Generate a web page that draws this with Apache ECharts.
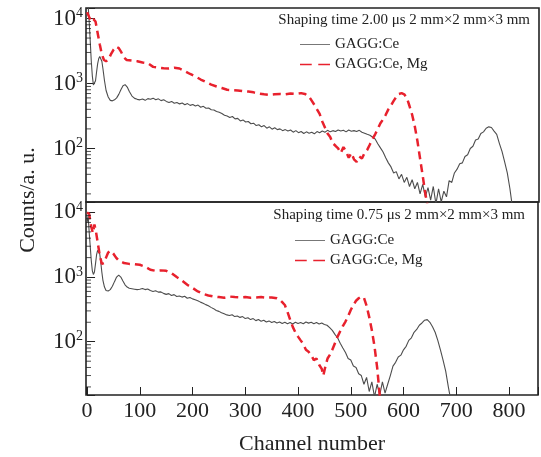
<!DOCTYPE html>
<html>
<head>
<meta charset="utf-8">
<script src="https://cdn.jsdelivr.net/npm/echarts@6/dist/echarts.min.js"></script>
<style>
html, body { margin: 0; padding: 0; background: #fff; }
#chart { width: 541px; height: 457px; }
</style>
</head>
<body>
<div id="chart"></div>
<script>
// channel numbers and counts
var headCh = [0,2,4,6,8,10,12,14,16,18,20,22,24,26,28,30,33,36,40,44,48,52,56,60,64,68,72,76,80,85,90,95];
var tailStart = 100, tailStep = 5;

// 2.00 us, GAGG:Ce
var topGrayHead = [20000,16000,9000,4500,2200,1300,950,920,1100,1500,2000,2400,2600,2550,2200,1700,1100,780,620,550,540,560,600,680,800,920,960,880,750,640,590,570];
var topGrayTail = [560,575,550,585,570,595,560,580,545,560,
  530,510,530,495,510,485,500,470,490,460,
  475,450,465,430,445,415,420,395,390,370,
  360,345,325,315,300,310,285,290,265,275,
  255,260,240,245,225,232,215,225,205,215,
  198,208,195,200,188,195,185,192,178,188,
  175,182,170,180,172,178,168,182,175,185,
  178,190,180,188,182,192,185,190,180,192,
  184,188,182,190,178,172,165,160,150,140,
  118,102,88,72,60,52,42,44,34,40,
  30,36,26,33,24,30,20,28,18,25,
  16,26,14,24,15,22,18,32,30,42,
  48,58,60,75,80,100,108,135,140,170,
  180,205,215,210,185,165,120,90,62,42,
  24,12];

// 2.00 us, GAGG:Ce,Mg
var topRedCh = [0,4,8,12,16,20,24,28,32,36,40,45,50,55,60,65,70,75,85,95,105,115,125,135,145,155,165,175,185,195,205,215,225,235,245,255,265,275,285,295,305,315,325,335,345,355,365,375,385,395,405,412,418,424,430,435,440,445,450,455,460,465,470,475,480,485,490,495,500,505,510,515,520,525,530,535,540,545,550,555,560,565,570,575,580,585,590,595,600,605,610,615,620,625,630,635,640,645];
var topRed = [12500,10500,9000,9800,9000,6000,4000,2800,2300,2200,2300,2800,3300,3700,3500,3000,2500,2300,2250,2200,2100,2050,1800,1750,1720,1700,1750,1700,1550,1400,1280,1150,1050,960,900,850,800,790,780,760,750,730,700,680,665,680,690,680,700,690,710,690,650,560,470,400,340,260,210,170,150,120,110,100,85,105,90,72,85,68,62,75,70,85,95,115,140,165,200,245,280,330,400,460,540,620,690,710,680,600,450,330,220,130,70,38,20,12];

// 0.75 us, GAGG:Ce
var bottomGrayHead = [7000,9000,5000,3000,1800,1250,1100,1200,1600,2200,2600,2700,2300,1700,1200,900,700,620,610,640,720,850,1000,1070,1000,870,760,700,670,660,650,640];
var bottomGrayTail = [650,665,640,655,620,600,615,585,590,560,
  540,555,520,535,500,510,490,505,470,485,
  460,445,430,410,395,375,360,340,325,305,
  295,280,270,260,255,262,245,250,238,245,
  228,235,220,228,212,220,208,215,202,210,
  198,206,195,202,192,200,190,198,188,200,
  192,198,190,202,194,200,190,198,188,195,
  185,180,165,150,130,115,95,80,68,55,
  52,42,40,32,30,22,28,17,24,14,
  22,15,24,16,22,30,42,48,58,62,
  75,85,105,115,140,155,180,195,215,220,
  200,170,140,105,75,52,35,20,12];

// 0.75 us, GAGG:Ce,Mg
var bottomRedCh = [0,4,8,11,14,17,20,24,28,32,36,40,45,50,55,60,70,80,90,100,110,120,130,140,150,160,170,180,190,200,210,220,230,240,250,260,270,280,290,300,310,320,330,340,350,360,365,370,375,380,385,390,395,400,405,410,415,420,425,430,435,440,445,448,452,456,460,465,470,475,480,485,490,495,500,505,510,515,520,525,530,535,540,545,550,553,556];
var bottomRed = [10000,9500,6000,4800,6500,5000,3500,2200,1600,1650,2000,2400,2550,2300,2000,1800,1650,1600,1580,1550,1450,1300,1250,1270,1250,1150,1000,880,760,680,600,550,520,500,490,480,500,490,485,490,480,485,490,480,485,470,450,410,370,290,220,170,140,120,105,92,75,70,62,52,55,44,38,30,42,55,62,75,95,120,145,175,205,250,310,370,430,470,500,480,360,240,150,85,40,22,12];

var minorTicks = [20,30,40,50,60,70,80,90,200,300,400,500,600,700,800,900,2000,3000,4000,5000,6000,7000,8000,9000];
var xTicks = [0,100,200,300,400,500,600,700,800];
var titles = ['Shaping time 2.00 \u03bcs 2 mm\u00d72 mm\u00d73 mm', 'Shaping time 0.75 \u03bcs 2 mm\u00d72 mm\u00d73 mm'];
var names = ['GAGG:Ce', 'GAGG:Ce, Mg'];

var X_MIN = -2, X_MAX = 855, Y_MIN = 15, Y_MAX = 14500;
var FONT = '"Liberation Serif", "Times New Roman", serif';
var RED = '#e8212d', GRAY = '#4d4d4d';

function zip(xs, ys) {
  var out = [];
  for (var i = 0; i < Math.min(xs.length, ys.length); i++) out.push([xs[i], ys[i]]);
  return out;
}
function spectrum(head, tail) {
  var pts = zip(headCh, head);
  for (var i = 0; i < tail.length; i++) pts.push([tailStart + i * tailStep, tail[i]]);
  return pts;
}

function xAxisOpt(idx, showLabels) {
  return {
    type: 'value', gridIndex: idx, min: X_MIN, max: X_MAX, splitNumber: 8,
    axisLine: { show: false },
    splitLine: { show: false },
    axisTick: { show: showLabels, inside: true, length: 8, lineStyle: { color: '#222', width: 1 } },
    axisLabel: {
      show: showLabels, margin: 5, color: '#222', fontSize: 22, fontFamily: FONT,
      formatter: function (v) { return xTicks.indexOf(v) >= 0 ? String(v) : ''; }
    },
    name: showLabels ? 'Channel number' : '',
    nameLocation: 'middle', nameGap: 38,
    nameTextStyle: { color: '#222', fontSize: 22, fontFamily: FONT }
  };
}
function yAxisOpt(idx) {
  return {
    type: 'log', logBase: 10, gridIndex: idx, min: Y_MIN, max: Y_MAX,
    axisLine: { show: false },
    splitLine: { show: false },
    axisTick: { inside: true, length: 8, lineStyle: { color: '#222', width: 1 } },
    axisLabel: {
      margin: 3, color: '#222',
      formatter: function (v) {
        var e = Math.round(Math.log10(v));
        if (Math.abs(Math.pow(10, e) - v) > v * 1e-6) return '';
        return '{b|10}{s|' + e + '}';
      },
      rich: {
        b: { fontSize: 23, fontFamily: FONT, color: '#222', lineHeight: 24, verticalAlign: 'middle' },
        s: { fontSize: 14, fontFamily: FONT, color: '#222', lineHeight: 14, verticalAlign: 'top' }
      }
    }
  };
}
function grayLine(idx, data) {
  return {
    name: names[0], type: 'line', xAxisIndex: idx, yAxisIndex: idx, data: data,
    symbol: 'none', color: GRAY, lineStyle: { color: GRAY, width: 1.1 }, z: 3
  };
}
function redLine(idx, data) {
  return {
    name: names[1], type: 'line', xAxisIndex: idx, yAxisIndex: idx, data: data,
    symbol: 'none', color: RED, lineStyle: { color: RED, width: 2.5, type: [8, 5] }, z: 4
  };
}
function minorTickSeries(idx) {
  return {
    type: 'scatter', xAxisIndex: idx, yAxisIndex: idx, silent: true,
    data: minorTicks.map(function (v) { return [X_MIN, v]; }),
    symbol: 'rect', symbolSize: [5, 1], symbolOffset: [2.5, 0],
    itemStyle: { color: '#222' }, z: 5
  };
}
function legendOpt(left, top) {
  return {
    orient: 'vertical', left: left, top: top,
    itemWidth: 30, itemHeight: 2, itemGap: 5, padding: 0,
    data: [
      { name: names[0], icon: 'path://M0,0h30v1h-30z', itemStyle: { color: '#777' } },
      { name: names[1], icon: 'path://M0,0h9v1h-9z M14,0h9v1h-9z', itemStyle: { color: RED } }
    ],
    textStyle: { color: '#222', fontSize: 15, fontFamily: FONT, lineHeight: 15 }
  };
}

var chart = echarts.init(document.getElementById('chart'), null, { renderer: 'canvas' });
chart.setOption({
  backgroundColor: '#fff',
  animation: false,
  textStyle: { fontFamily: FONT },
  title: [
    { text: titles[0], right: 11, top: 13, padding: 0, textStyle: { color: '#222', fontSize: 15, fontWeight: 'normal', fontFamily: FONT } },
    { text: titles[1], right: 16, top: 208, padding: 0, textStyle: { color: '#222', fontSize: 15, fontWeight: 'normal', fontFamily: FONT } }
  ],
  legend: [legendOpt(300, 37), legendOpt(295, 233)],
  grid: [
    { left: 86, right: 2, top: 8, height: 194, show: true, borderColor: '#222', borderWidth: 1.6, backgroundColor: 'transparent' },
    { left: 86, right: 2, top: 202, height: 193, show: true, borderColor: '#222', borderWidth: 1.6, backgroundColor: 'transparent' }
  ],
  xAxis: [xAxisOpt(0, false), xAxisOpt(1, true)],
  yAxis: [yAxisOpt(0), yAxisOpt(1)],
  graphic: [{
    type: 'text', x: 28, y: 200, rotation: Math.PI / 2,
    style: { text: 'Counts/a. u.', fill: '#222', fontSize: 22, fontFamily: FONT, align: 'center', verticalAlign: 'middle' }
  }],
  series: [
    grayLine(0, spectrum(topGrayHead, topGrayTail)),
    redLine(0, zip(topRedCh, topRed)),
    grayLine(1, spectrum(bottomGrayHead, bottomGrayTail)),
    redLine(1, zip(bottomRedCh, bottomRed)),
    minorTickSeries(0),
    minorTickSeries(1)
  ]
});
</script>
</body>
</html>
